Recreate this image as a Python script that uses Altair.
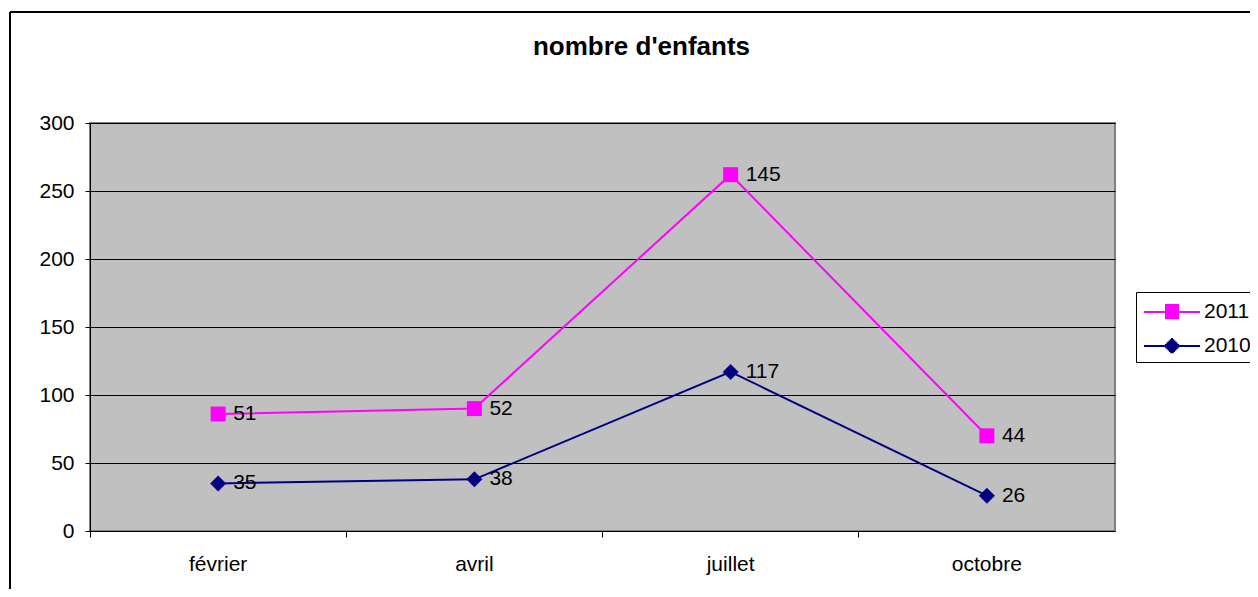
import altair as alt
import pandas as pd

months = ["février", "avril", "juillet", "octobre"]
v2010 = [35, 38, 117, 26]
v2011 = [51, 52, 145, 44]
series_names = ["2011", "2010"]
series_colors = ["#FF00FF", "#000080"]
marker_shapes = ["square", "diamond"]
marker_sizes = [225, 256]
y_ticks = [0, 50, 100, 150, 200, 250, 300]

rows = []
for m, a, b in zip(months, v2010, v2011):
    rows.append({"mois": m, "serie": "2010", "valeur": a, "ordre": 0})
    rows.append({"mois": m, "serie": "2011", "valeur": b, "ordre": 1})
df = pd.DataFrame(rows)

# rows with no y value: they draw nothing, they only carry the legend
legend_df = pd.DataFrame({"serie": series_names, "y1": [None, None]})

FONT = "Liberation Sans"
FS = 21

# legend symbol geometry (in pixels, converted to symbol units)
U = 14.0  # pixels per symbol unit (sqrt(size)/2)
LINE_FROM, LINE_TO, MARK_C = -12.0, 44.0, 16.0


def legend_path(kind):
    parts = [f"M{LINE_FROM / U:.3f},0H{LINE_TO / U:.3f}"]
    step = 1.2
    yy = -7.0
    while yy <= 7.01:
        if kind == "square":
            w = 7.0
        else:
            w = max(8.0 - abs(yy), 0.6)
        parts.append(
            f"M{(MARK_C - w) / U:.3f},{yy / U:.3f}H{(MARK_C + w) / U:.3f}"
        )
        yy += step
    return "".join(parts)


base = alt.Chart(df).transform_stack(
    stack="valeur",
    groupby=["mois"],
    as_=["y0", "y1"],
    sort=[alt.SortField("ordre", order="ascending")],
)

x_enc = alt.X(
    "mois:N",
    sort=months,
    scale=alt.Scale(type="band", domain=months, paddingInner=0, paddingOuter=0),
    axis=alt.Axis(
        title=None,
        labelAngle=0,
        bandPosition=0,
        tickSize=6,
        labelPadding=16,
        labelFontSize=FS,
        labelColor="black",
        tickColor="black",
        domainColor="black",
        grid=False,
    ),
    bandPosition=0.5,
)
y_axis = alt.Axis(
    title=None,
    values=y_ticks,
    tickSize=5,
    labelPadding=11,
    labelFontSize=FS,
    labelColor="black",
    tickColor="black",
    domainColor="black",
    grid=True,
    gridColor="black",
    gridWidth=1,
)
y_enc = alt.Y("y1:Q", scale=alt.Scale(domain=[0, 300], nice=False), axis=y_axis)

color_scale = alt.Scale(domain=series_names, range=series_colors)

legend_layer = alt.Chart(legend_df).mark_point(
    filled=False, opacity=1, strokeWidth=2
).encode(
    y=y_enc,
    color=alt.Color(
        "serie:N",
        scale=color_scale,
        legend=alt.Legend(
            title=None,
            orient="none",
            legendX=1046,
            legendY=169,
            symbolSize=int((2 * U) ** 2),
            symbolStrokeWidth=2,
            labelOffset=33,
            labelFontSize=FS,
            labelColor="black",
            padding=5,
            rowPadding=8,
            strokeColor="black",
            fillColor="white",
        ),
    ),
    shape=alt.Shape(
        "serie:N",
        scale=alt.Scale(
            domain=series_names,
            range=[legend_path("square"), legend_path("diamond")],
        ),
        legend=None,
    ),
)

lines = base.mark_line(strokeWidth=2).encode(
    x=x_enc,
    y=y_enc,
    color=alt.Color("serie:N", scale=color_scale, legend=None),
)

point_layers = []
for name, col, shp, sz in zip(series_names, series_colors, marker_shapes, marker_sizes):
    point_layers.append(
        base.transform_filter(alt.datum.serie == name)
        .mark_point(filled=True, opacity=1, color=col, shape=shp, size=sz)
        .encode(x=x_enc, y=y_enc)
    )

labels = base.mark_text(
    align="left", baseline="middle", dx=15, fontSize=FS, color="black", font=FONT
).encode(x=x_enc, y=y_enc, text=alt.Text("valeur:Q"))

# outer chart border (left and top edges; the others fall outside the picture)
frame_left = alt.Chart(df).mark_rule(stroke="black", strokeWidth=1).encode(
    x=alt.value(-80), y=alt.value(-111), y2=alt.value(700)
)
frame_top = alt.Chart(df).mark_rule(stroke="black", strokeWidth=1).encode(
    x=alt.value(-80), x2=alt.value(1400), y=alt.value(-111)
)

chart = (
    alt.layer(legend_layer, frame_left, frame_top, lines, *point_layers, labels)
    .properties(
        width=1025,
        height=408,
        title=alt.Title(
            "nombre d'enfants",
            fontSize=26,
            fontWeight="bold",
            font=FONT,
            color="black",
            anchor="middle",
            baseline="alphabetic",
            dx=39,
            offset=-69,
        ),
        autosize=alt.AutoSizeParams(type="none"),
        padding={"left": 82, "top": 115, "right": 135, "bottom": 58},
        background="white",
    )
    .configure_view(fill="#C0C0C0", stroke="#808080", strokeWidth=2)
    .configure_axis(labelFont=FONT)
    .configure_legend(labelFont=FONT)
    .configure_text(font=FONT)
)

chart.save("out.html", embed_options={"renderer": "svg", "actions": False})
